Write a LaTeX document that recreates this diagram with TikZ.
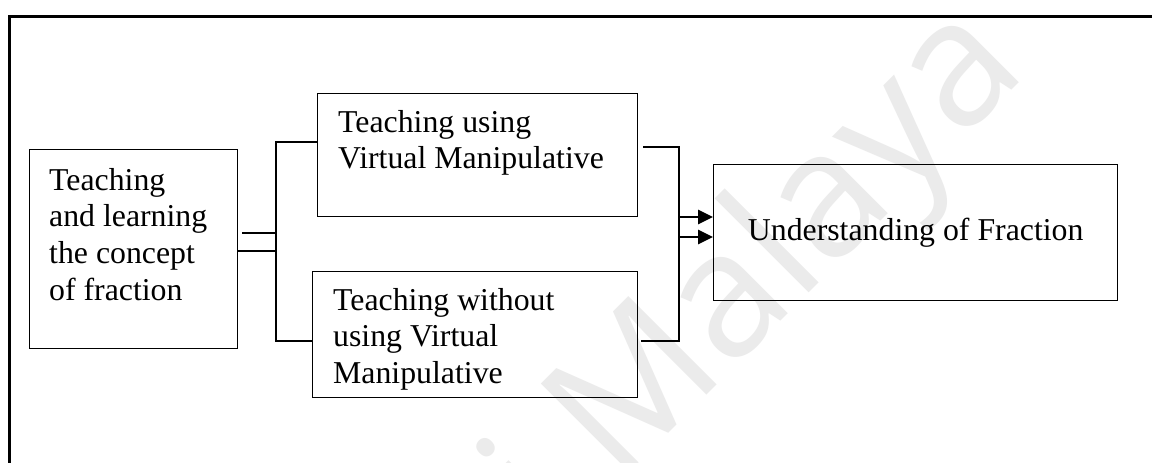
\documentclass[tikz,border=0pt]{standalone}
\usepackage{fontspec}
\setmainfont{Liberation Serif}
\newfontfamily\wmfont{Open Sans}
\usetikzlibrary{arrows.meta,calc}

\tikzset{
  boxnode/.style={draw=black, line width=1.4pt, inner sep=0pt, anchor=north west},
  boxtext/.style={inner sep=0pt, anchor=base west, font=\fontsize{31.8}{36.7}\selectfont},
  thinline/.style={line width=1.3pt},
  thickline/.style={line width=2.6pt},
  arrowline/.style={line width=2.6pt, -{Triangle[length=15pt,width=14pt]}},
  frameline/.style={line width=3pt},
  watermark/.style={text=black!8, font=\wmfont\fontsize{175}{175}\selectfont, inner sep=0pt}
}

\newcommand{\boxlines}[2]{\parbox[t]{#1pt}{\raggedright #2}}

\begin{document}
\begin{tikzpicture}[x=1pt, y=-1pt]
  \useasboundingbox[fill=white] (0,0) rectangle (1152,463);

  % faint background lettering, running diagonally up to the right
  \begin{scope}
    \clip (0,0) rectangle (1152,463);
    \node[watermark, rotate=45, anchor=base east] (wm) at (1030,72) {i Malaya};
  \end{scope}

  % outer frame (top and left edges lie on the page)
  \draw[frameline] (9,463) -- (9,16) -- (1152,16);

  % boxes
  \node[boxnode, minimum width=208pt, minimum height=199pt] (L) at (29,149) {};
  \node[boxnode, minimum width=320pt, minimum height=123pt] (T) at (317,93) {};
  \node[boxnode, minimum width=325pt, minimum height=126pt] (B) at (312,271) {};
  \node[boxnode, minimum width=404pt, minimum height=136pt,
        font=\fontsize{31.8}{36.7}\selectfont] (R) at (713,164) {\raisebox{-3pt}{Understanding of Fraction}};

  % box texts
  \node[boxtext] (Ltxt) at (49,190) {\boxlines{180}{Teaching\\and learning\\the concept\\of fraction}};
  \node[boxtext] (Ttxt) at (338,132) {\boxlines{300}{Teaching using\\Virtual Manipulative}};
  \node[boxtext] (Btxt) at (333,310) {\boxlines{300}{Teaching without\\using Virtual\\Manipulative}};

  % left-hand branching
  \coordinate (split) at (276,251);
  \coordinate (stub) at (242,233);
  \draw[thinline] (L.east |- split) -- (split);
  \draw[thinline] (stub) -- (stub -| split);
  \draw[thinline] (T.west |- 0,142) -| (split) |- (B.west |- 0,341);

  % right-hand joining
  \coordinate (join) at (679,217);
  \draw[thickline] ($(T.east |- 0,147)+(5,0)$) -| (join |- 0,341) -- ($(B.east |- 0,341)+(3,0)$);
  \draw[arrowline] (join) -- (R.west |- join);
  \draw[arrowline] (join |- 0,237) -- (R.west |- 0,237);
\end{tikzpicture}
\end{document}
